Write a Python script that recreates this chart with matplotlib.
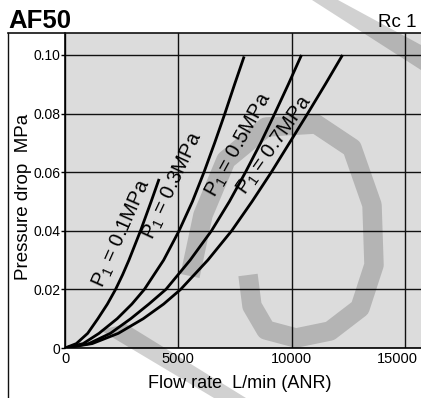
import matplotlib
matplotlib.use("Agg")
import matplotlib.pyplot as plt
from matplotlib.lines import Line2D
from matplotlib.patches import Polygon
from matplotlib.transforms import ScaledTranslation

plt.rcParams["font.family"] = ["Liberation Sans", "DejaVu Sans"]

# values (flow rate L/min, pressure drop MPa)
flow_p01 = [0, 500, 1000, 1450, 1870, 2230, 2540, 2820, 3330, 3800, 4150]
drop_p01 = [0, 0.0015, 0.005, 0.01, 0.015, 0.02, 0.025, 0.03, 0.04, 0.05, 0.0577]

flow_p03 = [0, 800, 1500, 2300, 2950, 3500, 4350, 5030, 5620, 6130, 6600, 7050, 7480, 7900]
drop_p03 = [0, 0.0015, 0.005, 0.01, 0.015, 0.02, 0.03, 0.04, 0.05, 0.06, 0.07, 0.08, 0.09, 0.0995]

flow_p05 = [0, 1050, 2000, 2900, 3700, 4450, 5520, 6460, 7250, 7960, 8630, 9250, 9850, 10430]
drop_p05 = [0, 0.0015, 0.005, 0.01, 0.015, 0.02, 0.03, 0.04, 0.05, 0.06, 0.07, 0.08, 0.09, 0.10]

flow_p07 = [0, 1200, 2350, 3450, 4350, 5100, 6300, 7350, 8250, 9100, 9900, 10700, 11480, 12240]
drop_p07 = [0, 0.0015, 0.005, 0.01, 0.015, 0.02, 0.03, 0.04, 0.05, 0.06, 0.07, 0.08, 0.09, 0.10]

curve_labels = ["0.1", "0.3", "0.5", "0.7"]

x_ticks = [0, 5000, 10000, 15000]
y_ticks = [0, 0.02, 0.04, 0.06, 0.08, 0.10]
y_tick_labels = ["0", "0.02", "0.04", "0.06", "0.08", "0.10"]

W, H = 421, 398
fig = plt.figure(figsize=(W / 100, H / 100), dpi=100)


def px(x, y):
    return (x / W, 1 - y / H)


ax = fig.add_axes([65 / W, 1 - 348 / H, 356 / W, 315 / H])
ax.set_facecolor("#dcdcdc")
ax.set_xlim(0, 15700)
ax.set_ylim(0, 0.1075)

ax.set_xticks(x_ticks)
ax.set_xticklabels([str(v) for v in x_ticks])
ax.set_yticks(y_ticks)
ax.set_yticklabels(y_tick_labels)
ax.tick_params(axis="x", length=0, pad=3, labelsize=10.5)
ax.tick_params(axis="y", length=3, width=1, pad=0.5, labelsize=10)
ax.grid(True, color="#111111", linewidth=1)
ax.set_axisbelow(True)
for side in ["top", "right"]:
    ax.spines[side].set_visible(False)
for side in ["left", "bottom"]:
    ax.spines[side].set_linewidth(1.2)

last = ax.get_xticklabels()[-1]
last.set_transform(last.get_transform() + ScaledTranslation(-0.08, 0, fig.dpi_scale_trans))

# watermark (light grey strokes behind the data)
wm = dict(color="black", alpha=0.18, lw=0, transform=fig.transFigure)
fig.add_artist(Polygon([px(312, 0), px(338, 0), px(421, 45), px(421, 70)], closed=True, **wm))
fig.add_artist(Polygon([px(100, 330), px(126, 324), px(246, 398), px(214, 398)], closed=True, **wm))
loop_x = [190, 203, 226, 266, 316, 352, 372, 374, 360, 330, 296, 266, 252, 248]
loop_y = [276, 215, 160, 127, 124, 148, 205, 265, 308, 331, 338, 330, 306, 275]
fig.add_artist(Line2D([px(a, b)[0] for a, b in zip(loop_x, loop_y)],
                      [px(a, b)[1] for a, b in zip(loop_x, loop_y)],
                      color="black", alpha=0.18, lw=14, solid_capstyle="butt",
                      transform=fig.transFigure))

for flow, drop in [(flow_p01, drop_p01), (flow_p03, drop_p03),
                   (flow_p05, drop_p05), (flow_p07, drop_p07)]:
    ax.plot(flow, drop, color="black", linewidth=2, solid_capstyle="butt", zorder=5)

label_pos = [(2530, 0.0392, 66), (4780, 0.0552, 65), (7650, 0.0692, 61), (9230, 0.0692, 55)]
for text, (lx, ly, rot) in zip(curve_labels, label_pos):
    ax.text(lx, ly, "P$\\mathregular{_1}$ = " + text + "MPa", rotation=rot,
            ha="center", va="center", fontsize=14.5, rotation_mode="anchor", zorder=6)

ax.set_xlabel("Flow rate  L/min (ANR)", fontsize=13)
ax.xaxis.set_label_coords(0.4916, -0.086)
ax.set_ylabel("Pressure drop  MPa", fontsize=13.5)
ax.yaxis.set_label_coords(-0.092, 0.479)

# outer frame
fig.add_artist(Line2D([px(7.5, 0)[0], px(7.5, 0)[0]], [px(0, 33)[1], 0],
                      color="#111111", lw=1, transform=fig.transFigure))
fig.add_artist(Line2D([px(7.5, 0)[0], 1], [px(0, 33)[1], px(0, 33)[1]],
                      color="#111111", lw=1.2, transform=fig.transFigure))

fig.text(8 / W, 1 - 28 / H, "AF50", fontsize=18.5, fontweight="bold", va="baseline")
fig.text(378 / W, 1 - 27 / H, "Rc 1", fontsize=13.5, va="baseline")

fig.savefig("out.png", dpi=100)
plt.close(fig)
